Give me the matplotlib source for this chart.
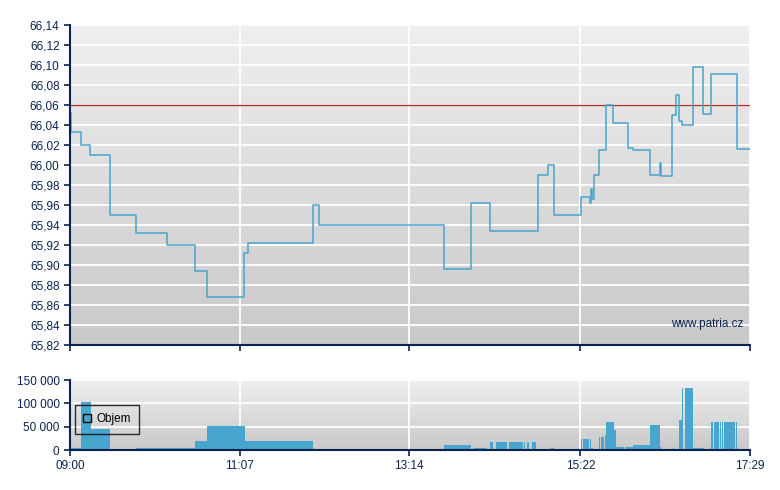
import numpy as np
import matplotlib
matplotlib.use("Agg")
import matplotlib.pyplot as plt
from matplotlib.colors import LinearSegmentedColormap
from matplotlib.patches import Patch
from matplotlib.ticker import FuncFormatter

plt.rcParams["font.family"] = ["Liberation Sans", "DejaVu Sans"]

# price trades: minutes after 09:00 and price (step chart)
price_minutes = [0, 0.5, 8.5, 15.2, 29.9, 49.6, 72.8, 93.3, 102.8, 130.5, 133,
                 181.7, 186.6, 280.2, 300.1, 314.6, 350, 358, 362.5, 382.3,
                 389.4, 390.2, 391, 392.2, 395.7, 401, 406.7, 417.4, 421.6,
                 434.4, 441.6, 442.4, 450.8, 453.4, 456.1, 458.3, 466.1, 474,
                 480, 499, 509]
price_values = [66.052, 66.033, 66.020, 66.010, 65.950, 65.932, 65.920, 65.894,
                65.868, 65.912, 65.922, 65.960, 65.940, 65.896, 65.962, 65.934,
                65.990, 66.000, 65.950, 65.968, 65.962, 65.976, 65.966, 65.990,
                66.015, 66.060, 66.042, 66.017, 66.015, 65.990, 66.002, 65.989,
                66.050, 66.070, 66.044, 66.040, 66.098, 66.051, 66.091, 66.016,
                66.016]
reference_price = 66.06

# volume blocks: start / end minute and traded volume
vol_start = [0, 8.2, 15.7, 49.4, 93.6, 102.5, 131, 280, 301.4, 312.4, 314.4,
             318.9, 328.4, 339.6, 342.1, 345.8, 360, 362, 369.8, 373, 374.3,
             382.5, 384, 389.2, 390, 391.5, 396, 397.2, 400.4, 401.2, 407.2,
             408.7, 415.4, 421.4, 434.1, 441.6, 451, 455.8, 458.1, 460.3,
             466.3, 475.3, 479.8, 482, 486.5, 488, 489.5, 498.5, 499.3, 503.7,
             506.7]
vol_end = [8.2, 15.7, 29.9, 93.6, 102.5, 131, 181.9, 300.1, 312.4, 314.4, 316.6,
           327.1, 338.8, 340.8, 343.3, 348.6, 362, 364, 371.3, 374.3, 381.7,
           383.2, 388.7, 390, 391.5, 395.2, 396.7, 399.7, 401.2, 407.2, 408.7,
           414.7, 421.4, 434.1, 441.6, 442.4, 452, 458.1, 458.8, 466.3, 474.6,
           479.8, 481.3, 485.8, 487.3, 488.8, 497.8, 499.3, 502.2, 506, 509]
vol_values = [4500, 102000, 46000, 4500, 20000, 52000, 20000, 11000, 4500, 2000,
              17000, 17000, 17000, 17000, 17000, 17000, 4000, 1500, 1500, 2000,
              1500, 24000, 24000, 24000, 4000, 1500, 28000, 28000, 32000, 59000,
              43000, 6500, 6500, 11000, 54000, 6000, 4000, 65000, 132000, 132000,
              4500, 2000, 59000, 59000, 59000, 59000, 59000, 59000, 3000, 3000,
              3000]

tick_minutes = [0, 127, 254, 382, 509]
tick_labels = ["09:00", "11:07", "13:14", "15:22", "17:29"]
price_ticks = np.arange(65.82, 66.141, 0.02)
vol_ticks = [0, 50000, 100000, 150000]

NAVY = "#0b2352"
BLUE = "#48a5cd"
grad = LinearSegmentedColormap.from_list("bg", ["#c9c9c9", "#efefef"])

fig = plt.figure(figsize=(7.8, 4.9), dpi=100)
ax = fig.add_axes([70 / 780, 1 - 345 / 490, 680 / 780, 320 / 490])
axv = fig.add_axes([70 / 780, 1 - 450 / 490, 680 / 780, 70 / 490])


def style_axes(a, xmax, ymin, ymax):
    a.imshow(np.linspace(0, 1, 256).reshape(-1, 1), extent=[0, 1, 0, 1],
             transform=a.transAxes, aspect="auto", cmap=grad, origin="lower",
             zorder=0)
    a.set_xlim(0, xmax)
    a.set_ylim(ymin, ymax)
    a.set_aspect("auto")
    for s in ("top", "right"):
        a.spines[s].set_visible(False)
    for s in ("left", "bottom"):
        a.spines[s].set_color(NAVY)
        a.spines[s].set_linewidth(1.5)
        a.spines[s].set_zorder(6)
    a.tick_params(colors=NAVY, labelcolor=NAVY, labelsize=8.5, length=4,
                  width=1.2, direction="out")
    a.grid(True, color="white", linewidth=1.3)
    a.set_axisbelow(False)


style_axes(ax, 509, 65.82, 66.14)
ax.set_xticks(tick_minutes)
ax.set_xticklabels([])
ax.set_yticks(price_ticks)
ax.yaxis.set_major_formatter(FuncFormatter(lambda v, p: f"{v:.2f}".replace(".", ",")))
ax.axhline(reference_price, color="#b5302a", linewidth=1, zorder=3)
ax.plot(price_minutes, price_values, drawstyle="steps-post", color=BLUE,
        linewidth=1.1, zorder=4)
ax.text(0.99, 0.065, "www.patria.cz", transform=ax.transAxes, ha="right",
        va="center", fontsize=8.5, color=NAVY, zorder=5)

style_axes(axv, 509, 0, 150000)
widths = [e - s for s, e in zip(vol_start, vol_end)]
axv.bar(vol_start, vol_values, width=widths, align="edge", color=BLUE,
        linewidth=0, zorder=3)
axv.set_xticks(tick_minutes)
axv.set_xticklabels(tick_labels)
axv.set_yticks(vol_ticks)
axv.yaxis.set_major_formatter(FuncFormatter(lambda v, p: f"{int(v):,}".replace(",", " ")))

leg = axv.legend(handles=[Patch(facecolor=BLUE, edgecolor="black", linewidth=1,
                                label="Objem")],
                 loc="upper left", bbox_to_anchor=(0.007, 0.643),
                 borderaxespad=0, fancybox=False, fontsize=8.5,
                 handlelength=0.7, handleheight=0.7, handletextpad=0.4,
                 borderpad=0.7)
leg.get_frame().set_facecolor("none")
leg.get_frame().set_edgecolor("black")
leg.get_frame().set_linewidth(1)
leg.set_zorder(5)

fig.savefig("out.png", dpi=100)
plt.close(fig)
